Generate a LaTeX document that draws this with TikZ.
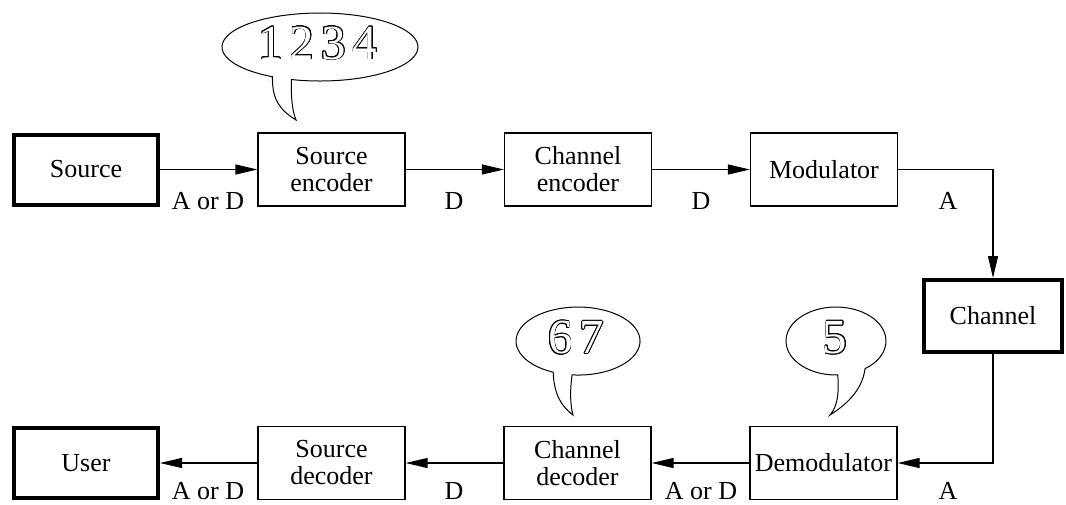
\documentclass[tikz,border=0pt]{standalone}
\usepackage{fontspec}
\setmainfont{Liberation Serif}
\usepackage{contour}
\contourlength{0.35pt}
\usetikzlibrary{arrows.meta}

\begin{document}
\begin{tikzpicture}[yscale=-1
                ,block/.style={draw=black,fill=white,line width=0.6pt,minimum width=73.5pt,minimum height=36.5pt,align=center,inner sep=1pt,font=\fontsize{13}{13.5}\selectfont}
                ,thickblock/.style={block,line width=2pt,minimum width=72pt,minimum height=35pt}
                ,conn/.style={draw=black,line width=0.6pt,-{Triangle[length=11pt,width=5pt]}}
                ,lbl/.style={anchor=base,inner sep=0pt,font=\fontsize{13}{13.5}\selectfont}
                ,bubble/.style={draw=black,fill=white,line width=0.5pt}
                ,digits/.style={text=white,inner sep=0pt,font=\fontsize{24.5}{24.5}\selectfont}
            ]
            \useasboundingbox (0pt,0pt) rectangle (533pt,252pt);
            % top row
            \node (source) at (43pt,84.75pt)[thickblock]{Source};
            \node (srcenc) at (165.75pt,84.75pt)[block]{Source\\encoder};
            \node (chenc) at (289pt,84.75pt)[block]{Channel\\encoder};
            \node (mod) at (412pt,84.75pt)[block]{Modulator};
            \node (channel) at (496.5pt,158pt)[thickblock,minimum width=69pt,minimum height=36pt]{Channel};
            % bottom row
            \node (user) at (43pt,231.5pt)[thickblock]{User};
            \node (srcdec) at (165.75pt,231.5pt)[block]{Source\\decoder};
            \node (chdec) at (288.75pt,231.5pt)[block]{Channel\\decoder};
            \node (demod) at (411.75pt,231.5pt)[block]{Demodulator};
            % connectors
            \draw[conn] (source) -- (srcenc);
            \draw[conn] (srcenc) -- (chenc);
            \draw[conn] (chenc) -- (mod);
            \draw[conn] (mod.east) -| (channel.north);
            \draw[conn] (channel.south) |- (demod.east);
            \draw[conn] (demod) -- (chdec);
            \draw[conn] (chdec) -- (srcdec);
            \draw[conn] (srcdec) -- (user);
            % signal labels
            \node (la1) at (104pt,104.5pt)[lbl]{A or D};
            \node (la2) at (227pt,104.5pt)[lbl]{D};
            \node (la3) at (350.5pt,104.5pt)[lbl]{D};
            \node (la4) at (474pt,104.5pt)[lbl]{A};
            \node (lb1) at (104pt,249.5pt)[lbl]{A or D};
            \node (lb2) at (227pt,249.5pt)[lbl]{D};
            \node (lb3) at (350.5pt,249.5pt)[lbl]{A or D};
            \node (lb4) at (474pt,249.5pt)[lbl]{A};
            % speech bubbles
            \draw[bubble] (136.24pt,38.37pt) arc[start angle=119,end angle=467,x radius=49pt,y radius=17pt] .. controls (145.5pt,48pt) and (146pt,55pt) .. (148pt,60pt) .. controls (140pt,55pt) and (136pt,50pt) .. (136.24pt,38.37pt) -- cycle;
            \node (b1234) at (159pt,21.75pt)[digits]{\contour{black}{1\kern3.5pt 2\kern3.5pt 3\kern3.5pt 4}};
            \draw[bubble] (276.6pt,186.1pt) arc[start angle=113.6,end angle=455.5,x radius=31pt,y radius=17pt] .. controls (285pt,195pt) and (285pt,202pt) .. (286.5pt,207.5pt) .. controls (280.5pt,203pt) and (277pt,197pt) .. (276.6pt,186.1pt) -- cycle;
            \node (b67) at (288pt,169pt)[digits]{\contour{black}{6\kern3.5pt 7}};
            \draw[bubble] (418.87pt,187.49pt) arc[start angle=88,end angle=414.5,x radius=25pt,y radius=17pt] .. controls (431pt,196pt) and (422pt,203pt) .. (415pt,207.5pt) .. controls (419pt,203pt) and (419.5pt,196pt) .. (418.87pt,187.49pt) -- cycle;
            \node (b5) at (417.5pt,169pt)[digits]{\contour{black}{5}};
        \end{tikzpicture}
\end{document}
